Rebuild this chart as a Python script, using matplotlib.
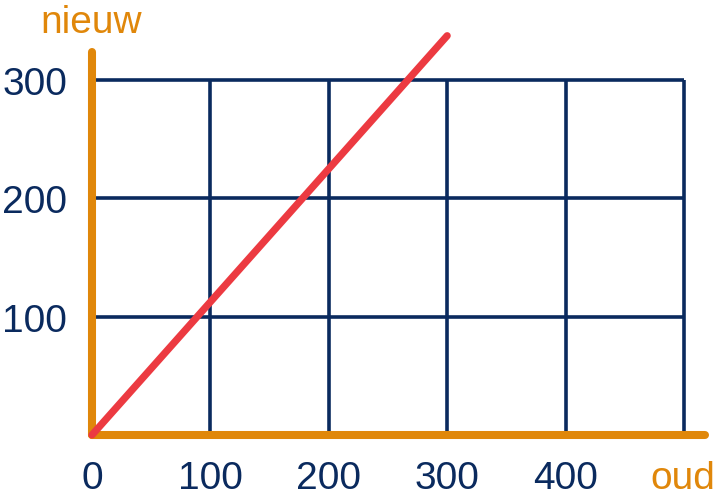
import numpy as np
import matplotlib.pyplot as plt

plt.rcParams['font.family'] = ['Liberation Sans', 'DejaVu Sans']

navy = '#0a2a5e'
orange = '#e0870a'
red = '#ec3a41'

x_grid = [100, 200, 300, 400, 500]
y_grid = [100, 200, 300]
x_ticks = [0, 100, 200, 300, 400]
y_ticks = [100, 200, 300]
oud = np.array([0, 300])
nieuw = np.array([0, 337.5])

fig = plt.figure(figsize=(7.17, 4.96), dpi=100)
ax = fig.add_axes([0, 0, 1, 1])
ax.set_xlim(-77.7, 527.9)
ax.set_ylim(-51.6, 367.7)
ax.axis('off')

for x in x_grid:
    ax.plot([x, x], [0, 300], color=navy, lw=2.6, solid_capstyle='butt', zorder=1)
for y in y_grid:
    ax.plot([0, 500], [y, y], color=navy, lw=2.6, solid_capstyle='butt', zorder=1)

# assen
ax.plot([0, 0], [0, 324], color=orange, lw=5.8, solid_capstyle='round', zorder=2)
ax.plot([0, 518], [0, 0], color=orange, lw=5.8, solid_capstyle='round', zorder=2)

ax.plot(oud, nieuw, color=red, lw=5.2, solid_capstyle='round', zorder=3)

fs = 28
for x in x_ticks:
    ax.text(x, -45.6, str(x), color=navy, fontsize=fs, ha='center', va='baseline')
for y in y_ticks:
    ax.text(-21.1, y - 12.7, str(y), color=navy, fontsize=fs, ha='right', va='baseline')

ax.text(-0.8, 339.8, 'nieuw', color=orange, fontsize=fs, ha='center', va='baseline')
ax.text(471.5, -45.6, 'oud', color=orange, fontsize=fs, ha='left', va='baseline')

fig.savefig('out.png', dpi=100)
